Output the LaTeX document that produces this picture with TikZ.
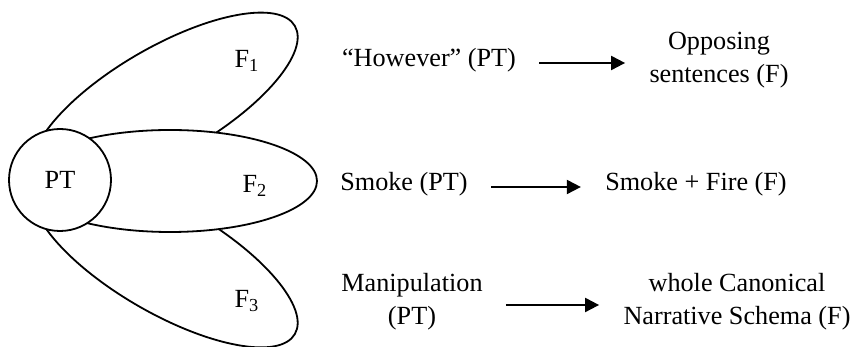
\documentclass[tikz,border=0pt]{standalone}
\usepackage{fontspec}
\setmainfont{Liberation Serif}
\usetikzlibrary{arrows.meta}

\begin{document}
\begin{tikzpicture}[x=0.5pt, y=0.5pt,
      field/.style={draw, line width=0.9pt, fill=white},
      lbl/.style={font=\fontsize{13.1}{16.5}\selectfont, inner sep=0pt},
      txt/.style={lbl, align=center},
      arr/.style={-{Triangle[length=7pt, width=7pt]}, line width=1pt,
        shorten <=11.5pt, shorten >=12pt}
    ]
    \useasboundingbox (0,0) rectangle (853,347);

    % --- the three fields round the circle ---
    \draw[field, rotate around={30:(165,246)}] (165,246) ellipse [x radius=150, y radius=54];
    \draw[field, rotate around={-30:(165,88)}] (165,88) ellipse [x radius=150, y radius=54];
    \draw[field] (170,166) ellipse [x radius=147, y radius=51];
    \node[circle, draw, line width=0.9pt, fill=white, minimum size=51pt, lbl] (pt) at (60,167) {PT};

    \node[lbl] (f1) at (247,286) {F\textsubscript{1}};
    \node[lbl] (f2) at (255,161) {F\textsubscript{2}};
    \node[lbl] (f3) at (247,46) {F\textsubscript{3}};

    % --- examples ---
    \node[txt] (how) at (429,287) {``However'' (PT)};
    \node[txt] (opp) at (719,287) {Opposing\\sentences (F)};
    \node[txt] (smk) at (404,163) {Smoke (PT)};
    \node[txt] (smf) at (696,163) {Smoke + Fire (F)};
    \node[txt] (man) at (412,45) {Manipulation\\(PT)};
    \node[txt] (cns) at (737,45) {whole Canonical\\Narrative Schema (F)};

    \foreach \a/\b in {how/opp, smk/smf, man/cns}
      \draw[arr] ([yshift=-1.5pt]\a.east) -- ([yshift=-1.5pt]\a.east -| \b.west);

  \end{tikzpicture}
\end{document}
